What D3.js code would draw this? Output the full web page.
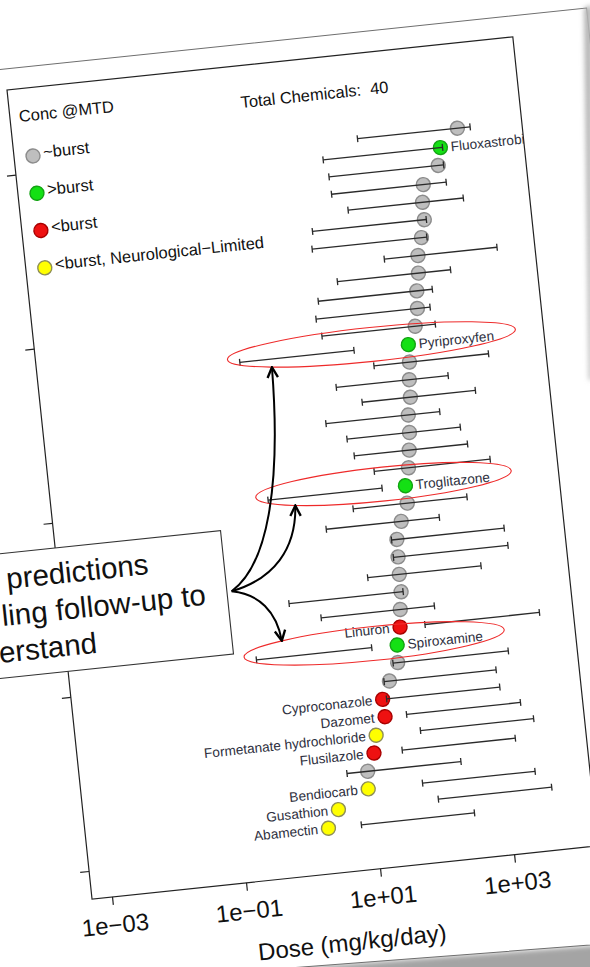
<!DOCTYPE html>
<html>
<head>
<meta charset="utf-8">
<script src="https://cdn.jsdelivr.net/npm/d3@7"></script>
<style>
  body { margin: 0; background: #fff; }
  svg { display: block; font-family: "Liberation Sans", Arial, sans-serif; }
</style>
</head>
<body>
<div id="chart"></div>
<script>
// chemicals from the top of the plot down ("" = no label)
var chemicals = ["", "Fluoxastrobin", "", "", "", "", "", "", "", "", "", "",
  "Pyriproxyfen", "", "", "", "", "", "", "", "Troglitazone", "", "", "", "", "", "", "",
  "Linuron", "Spiroxamine", "", "", "Cyproconazole", "Dazomet",
  "Formetanate hydrochloride", "Flusilazole", "", "Bendiocarb", "Gusathion", "Abamectin"];
var classes = ["approx", "gt", "approx", "approx", "approx", "approx", "approx", "approx", "approx", "approx", "approx", "approx",
  "gt", "approx", "approx", "approx", "approx", "approx", "approx", "approx", "gt", "approx", "approx", "approx", "approx", "approx", "approx", "approx",
  "lt", "gt", "approx", "approx", "lt", "lt", "neuro", "lt", "approx", "neuro", "neuro", "neuro"];
// dose (mg/kg/day)
var doseAtMTD = [1950, 1020, 890, 500, 457, 457, 389, 324, 309, 275, 263, 229, 170, 166, 155, 151, 132, 129, 120, 110,
  93, 93, 71, 57.5, 56.2, 55, 55, 50.1, 46.8, 39.8, 38, 26.9, 20, 20.4, 14.1, 12.3, 9.3, 8.9, 3.0, 2.0];
var burstLow = [63, 18.2, 20.9, 21.4, 35.5, 9.8, 9.1, 102, 19.1, 9.3, 8.1, 9.3, 0.52, 49, 12.6, 28.8, 7.8, 15.1, 18.2, 33.9,
  0.83, 14.5, 5.4, 47.9, 47.9, 18.6, 1.17, 3.31, 110, 0.316, 32.4, 22.4, 22.9, 42.7, 64.6, 32.4, 4.57, 57.5, 93, 6.2];
var burstHigh = [3020, 1100, 1070, 1100, 1860, 490, 468, 4900, 933, 468, 407, 457, 26.3, 2510, 589, 1410, 389, 741, 891, 1820,
  41.7, 724, 263, 2290, 2450, 912, 58.9, 162, 5620, 16.6, 1700, 1050, 1120, 2140, 3160, 1580, 229, 2750, 4570, 302];

var xTicks = [1e-3, 1e-1, 1e1, 1e3];
var xTickLabels = ["1e\u221203", "1e\u221201", "1e+01", "1e+03"];
var yTicks = [0, 10, 20, 30, 40];
var legendClasses = ["approx", "gt", "lt", "neuro"];
var legendLabels = ["~burst", ">burst", "<burst", "<burst, Neurological\u2212Limited"];
var flagged = ["Pyriproxyfen", "Troglitazone", "Spiroxamine"];
var calloutLines = ["predictions", "ling follow-up to", "erstand"];

var fills = {approx: "#bebebe", gt: "#14e014", lt: "#ee1111", neuro: "#ffff00"};
var strokes = {approx: "#8c8c8c", gt: "#13a313", lt: "#a80000", neuro: "#8f8f55"};

var rows = chemicals.map(function(c, i) {
  return {name: c, cls: classes[i], rank: chemicals.length - i,
          pt: doseAtMTD[i], lo: burstLow[i], hi: burstHigh[i]};
});

// size of the plot box (it is seen tilted in the photo)
var plotW = 508.6, plotH = 813.5;

var svg = d3.select("#chart").append("svg")
    .attr("width", 590)
    .attr("height", 967);
svg.append("rect").attr("width", 590).attr("height", 967).attr("fill", "#fff");

var defs = svg.append("defs");
defs.append("filter").attr("id", "soft")
    .attr("x", "-300%").attr("y", "-20%").attr("width", "700%").attr("height", "140%")
  .append("feGaussianBlur").attr("stdDeviation", 2.5);
defs.append("clipPath").attr("id", "plotclip")
  .append("rect").attr("width", plotW).attr("height", plotH);
defs.append("marker").attr("id", "head")
    .attr("viewBox", "0 0 10 10").attr("refX", 9).attr("refY", 5)
    .attr("markerWidth", 6.5).attr("markerHeight", 6.5).attr("orient", "auto")
  .append("path").attr("d", "M1,1L9,5L1,9")
    .attr("fill", "none").attr("stroke", "#000").attr("stroke-width", 1.8);

// the whole slide is rotated a little
var page = svg.append("g").attr("transform", "translate(7,90) rotate(-6)");

// slide shadow and slide
page.append("path")
    .attr("d", "M-150,893L750,920L750,1060L-150,1060Z")
    .attr("fill", "#a4a4a4")
    .attr("filter", "url(#soft)");
page.append("path")
    .attr("d", "M-150,-21L585,-21L585,914L-150,893Z")
    .attr("fill", "#fff")
    .attr("stroke", "#6e6e6e")
    .attr("stroke-width", 1);

// set the ranges
var x = d3.scaleLog().domain([Math.pow(10, -3.298), Math.pow(10, 4.25)]).range([0, plotW]);
var y = d3.scaleLinear().domain([-1.61, 44.86]).range([plotH, 0]);

var plot = page.append("g");

plot.append("rect")
    .attr("width", plotW).attr("height", plotH)
    .attr("fill", "none").attr("stroke", "#222").attr("stroke-width", 1.2);

// X axis
var xAxis = plot.append("g")
    .attr("transform", "translate(0," + plotH + ")")
    .call(d3.axisBottom(x).tickValues(xTicks).tickSize(8)
      .tickFormat(function(d) { return xTickLabels[xTicks.indexOf(d)]; }));
xAxis.select(".domain").remove();
xAxis.attr("font-size", 24).attr("font-family", null);
xAxis.selectAll("line").attr("stroke", "#222").attr("stroke-width", 1.2);
xAxis.selectAll("text").attr("y", 36.5).attr("dy", null).attr("fill", "#111");

// Y axis (ticks only)
var yAxis = plot.append("g")
    .call(d3.axisLeft(y).tickValues(yTicks).tickSize(9).tickFormat(""));
yAxis.select(".domain").remove();
yAxis.selectAll("line").attr("stroke", "#222").attr("stroke-width", 1.2);

plot.append("text")
    .attr("x", plotW / 2).attr("y", 892)
    .attr("text-anchor", "middle")
    .attr("font-size", 24).attr("fill", "#111")
    .text("Dose (mg/kg/day)");

// points
plot.append("g").selectAll("circle")
  .data(rows).join("circle")
    .attr("cx", function(d) { return x(d.pt); })
    .attr("cy", function(d) { return y(d.rank); })
    .attr("r", 7)
    .attr("fill", function(d) { return fills[d.cls]; })
    .attr("stroke", function(d) { return strokes[d.cls]; })
    .attr("stroke-width", 1.4);

// burst ranges
var bars = plot.append("g").attr("stroke", "#2a2a2a").attr("stroke-width", 1.3);
bars.selectAll("line.range")
  .data(rows).join("line").attr("class", "range")
    .attr("x1", function(d) { return x(d.lo); })
    .attr("x2", function(d) { return x(d.hi); })
    .attr("y1", function(d) { return y(d.rank); })
    .attr("y2", function(d) { return y(d.rank); });
bars.selectAll("line.lo")
  .data(rows).join("line").attr("class", "lo")
    .attr("x1", function(d) { return x(d.lo); })
    .attr("x2", function(d) { return x(d.lo); })
    .attr("y1", function(d) { return y(d.rank) - 3.5; })
    .attr("y2", function(d) { return y(d.rank) + 3.5; });
bars.selectAll("line.hi")
  .data(rows).join("line").attr("class", "hi")
    .attr("x1", function(d) { return x(d.hi); })
    .attr("x2", function(d) { return x(d.hi); })
    .attr("y1", function(d) { return y(d.rank) - 3.5; })
    .attr("y2", function(d) { return y(d.rank) + 3.5; });

// chemical names, clipped to the plot region
var labels = plot.append("g").attr("clip-path", "url(#plotclip)")
  .selectAll("text")
  .data(rows.filter(function(d) { return d.name !== ""; })).join("text")
    .attr("x", function(d) { return x(d.pt) + (d.cls === "gt" ? 10.5 : -10.5); })
    .attr("y", function(d) { return y(d.rank); })
    .attr("dy", "0.35em")
    .attr("text-anchor", function(d) { return d.cls === "gt" ? "start" : "end"; })
    .attr("font-size", 13.6)
    .attr("fill", "#2e3040")
    .text(function(d) { return d.name; });

// legend
plot.append("text").attr("x", 9).attr("y", 33)
    .attr("font-size", 16.5).attr("fill", "#111").text("Conc @MTD");
plot.append("text").attr("x", 231).attr("y", 42.5)
    .attr("font-size", 16.5).attr("fill", "#111").text("Total Chemicals:\u00a0 " + rows.length);
var leg = plot.append("g").selectAll("g")
  .data(legendClasses).join("g")
    .attr("transform", function(d, i) { return "translate(19," + (68.3 + i * 37.5) + ")"; });
leg.append("circle").attr("r", 7)
    .attr("fill", function(d) { return fills[d]; })
    .attr("stroke", function(d) { return strokes[d]; })
    .attr("stroke-width", 1.4);
leg.append("text").attr("x", 10.5).attr("y", 3)
    .attr("font-size", 16.5).attr("fill", "#111")
    .text(function(d, i) { return legendLabels[i]; });

// red rings round the flagged chemicals
var rings = [];
labels.each(function(d) {
  if (flagged.indexOf(d.name) < 0) return;
  var left = x(d.lo) - 12;
  var right = x(d.pt) + 10.5 + this.getComputedTextLength() + 22;
  rings.push({name: d.name, cx: (left + right) / 2, rx: (right - left) / 2, cy: y(d.rank) - 4, ry: 17});
});
plot.append("g").selectAll("ellipse")
  .data(rings).join("ellipse")
    .attr("cx", function(d) { return d.cx; })
    .attr("cy", function(d) { return d.cy; })
    .attr("rx", function(d) { return d.rx; })
    .attr("ry", function(d) { return d.ry; })
    .attr("fill", "none")
    .attr("stroke", "#ee2a2a")
    .attr("stroke-width", 1.1);

// callout box
var callout = page.append("g");
callout.append("rect")
    .attr("x", -300).attr("y", 460.5).attr("width", 466.3).attr("height", 124)
    .attr("fill", "#fff").attr("stroke", "#333").attr("stroke-width", 1.1);
callout.selectAll("text")
  .data(calloutLines).join("text")
    .attr("x", function(d, i) { return [-51.8, -60.2, -66.9][i]; })
    .attr("y", function(d, i) { return 496.3 + i * 36.4; })
    .attr("font-size", 29.5).attr("fill", "#111")
    .text(function(d) { return d; });

// arrows from the callout to the rings
var start = [171, 522];
var arrow = d3.path;
page.append("g").selectAll("path")
  .data(rings).join("path")
    .attr("d", function(d) {
      var ex = d.cx - 0.7 * d.rx;
      var ey = d.cy < start[1] ? d.cy + 0.72 * d.ry : d.cy - 0.72 * d.ry;
      var dx = ex - start[0], dy = ey - start[1];
      var p = d3.path();
      p.moveTo(start[0], start[1]);
      p.bezierCurveTo(start[0] + 0.6 * dx, start[1] + 0.1 * dy,
                      start[0] + 0.95 * dx, start[1] + 0.45 * dy, ex, ey);
      return p.toString();
    })
    .attr("fill", "none")
    .attr("stroke", "#000")
    .attr("stroke-width", 2)
    .attr("marker-end", "url(#head)");

// page edge shading on the right
svg.append("path")
    .attr("d", "M584,8L592,5L592,380L589,380Z")
    .attr("fill", "#b4b4b4")
    .attr("filter", "url(#soft)");
</script>
</body>
</html>
